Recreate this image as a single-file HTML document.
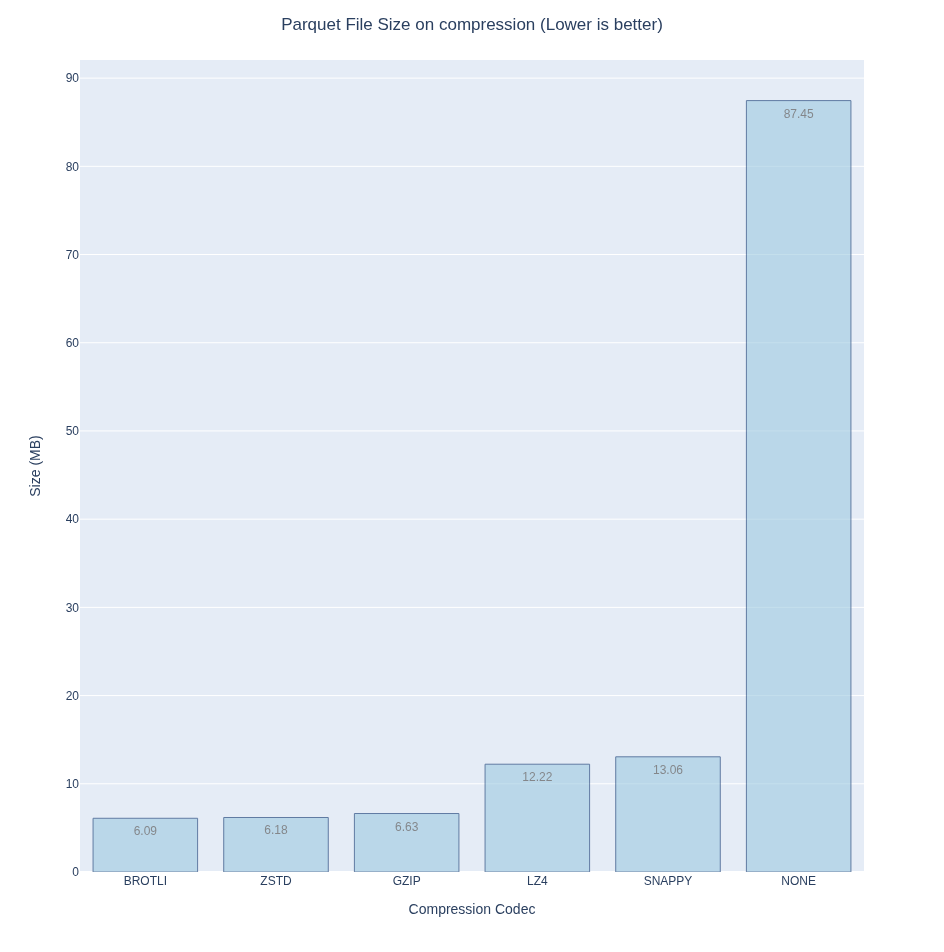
<!DOCTYPE html>
<html><head><meta charset="utf-8"><style>html,body{margin:0;padding:0;background:#fff;width:944px;height:952px;overflow:hidden}svg text{font-family:"Liberation Sans", sans-serif}svg{will-change:transform}</style></head>
<body><svg width="944" height="952" viewBox="0 0 944 952" style='display:block;font-family:"Liberation Sans", sans-serif'>
<defs><clipPath id="c"><rect x="80" y="60" width="784" height="812"/></clipPath></defs>
<rect width="944" height="952" fill="#fff"/>
<rect x="80" y="60" width="784" height="812" fill="#E5ECF6"/>
<path d="M80,783.79H864" stroke="#fff" stroke-width="1"/>
<path d="M80,695.58H864" stroke="#fff" stroke-width="1"/>
<path d="M80,607.37H864" stroke="#fff" stroke-width="1"/>
<path d="M80,519.16H864" stroke="#fff" stroke-width="1"/>
<path d="M80,430.95H864" stroke="#fff" stroke-width="1"/>
<path d="M80,342.74H864" stroke="#fff" stroke-width="1"/>
<path d="M80,254.53H864" stroke="#fff" stroke-width="1"/>
<path d="M80,166.32H864" stroke="#fff" stroke-width="1"/>
<path d="M80,78.11H864" stroke="#fff" stroke-width="1"/>
<path d="M80,872H864" stroke="#fff" stroke-width="2"/>
<g clip-path="url(#c)" opacity="0.6"><path d="M93.07,872V818.28H197.60V872Z" fill="rgb(158,202,225)" stroke="rgb(8,48,107)" stroke-width="1"/><text x="145.33" y="835.28" text-anchor="middle" fill="#444" font-size="12">6.09</text><path d="M223.73,872V817.49H328.27V872Z" fill="rgb(158,202,225)" stroke="rgb(8,48,107)" stroke-width="1"/><text x="276.00" y="834.49" text-anchor="middle" fill="#444" font-size="12">6.18</text><path d="M354.40,872V813.52H458.93V872Z" fill="rgb(158,202,225)" stroke="rgb(8,48,107)" stroke-width="1"/><text x="406.67" y="830.52" text-anchor="middle" fill="#444" font-size="12">6.63</text><path d="M485.07,872V764.21H589.60V872Z" fill="rgb(158,202,225)" stroke="rgb(8,48,107)" stroke-width="1"/><text x="537.33" y="781.21" text-anchor="middle" fill="#444" font-size="12">12.22</text><path d="M615.73,872V756.80H720.27V872Z" fill="rgb(158,202,225)" stroke="rgb(8,48,107)" stroke-width="1"/><text x="668.00" y="773.80" text-anchor="middle" fill="#444" font-size="12">13.06</text><path d="M746.40,872V100.60H850.93V872Z" fill="rgb(158,202,225)" stroke="rgb(8,48,107)" stroke-width="1"/><text x="798.67" y="117.60" text-anchor="middle" fill="#444" font-size="12">87.45</text></g>
<text x="79" y="876.20" text-anchor="end" fill="#2a3f5f" font-size="12">0</text>
<text x="79" y="787.99" text-anchor="end" fill="#2a3f5f" font-size="12">10</text>
<text x="79" y="699.78" text-anchor="end" fill="#2a3f5f" font-size="12">20</text>
<text x="79" y="611.57" text-anchor="end" fill="#2a3f5f" font-size="12">30</text>
<text x="79" y="523.36" text-anchor="end" fill="#2a3f5f" font-size="12">40</text>
<text x="79" y="435.15" text-anchor="end" fill="#2a3f5f" font-size="12">50</text>
<text x="79" y="346.94" text-anchor="end" fill="#2a3f5f" font-size="12">60</text>
<text x="79" y="258.73" text-anchor="end" fill="#2a3f5f" font-size="12">70</text>
<text x="79" y="170.52" text-anchor="end" fill="#2a3f5f" font-size="12">80</text>
<text x="79" y="82.31" text-anchor="end" fill="#2a3f5f" font-size="12">90</text>
<text x="145.33" y="885" text-anchor="middle" fill="#2a3f5f" font-size="12">BROTLI</text>
<text x="276.00" y="885" text-anchor="middle" fill="#2a3f5f" font-size="12">ZSTD</text>
<text x="406.67" y="885" text-anchor="middle" fill="#2a3f5f" font-size="12">GZIP</text>
<text x="537.33" y="885" text-anchor="middle" fill="#2a3f5f" font-size="12">LZ4</text>
<text x="668.00" y="885" text-anchor="middle" fill="#2a3f5f" font-size="12">SNAPPY</text>
<text x="798.67" y="885" text-anchor="middle" fill="#2a3f5f" font-size="12">NONE</text>
<text x="472" y="30" text-anchor="middle" fill="#2a3f5f" font-size="17">Parquet File Size on compression (Lower is better)</text>
<text x="472" y="914" text-anchor="middle" fill="#2a3f5f" font-size="14">Compression Codec</text>
<text transform="translate(40,466) rotate(-90)" x="0" y="0" text-anchor="middle" fill="#2a3f5f" font-size="14">Size (MB)</text>
</svg></body></html>
